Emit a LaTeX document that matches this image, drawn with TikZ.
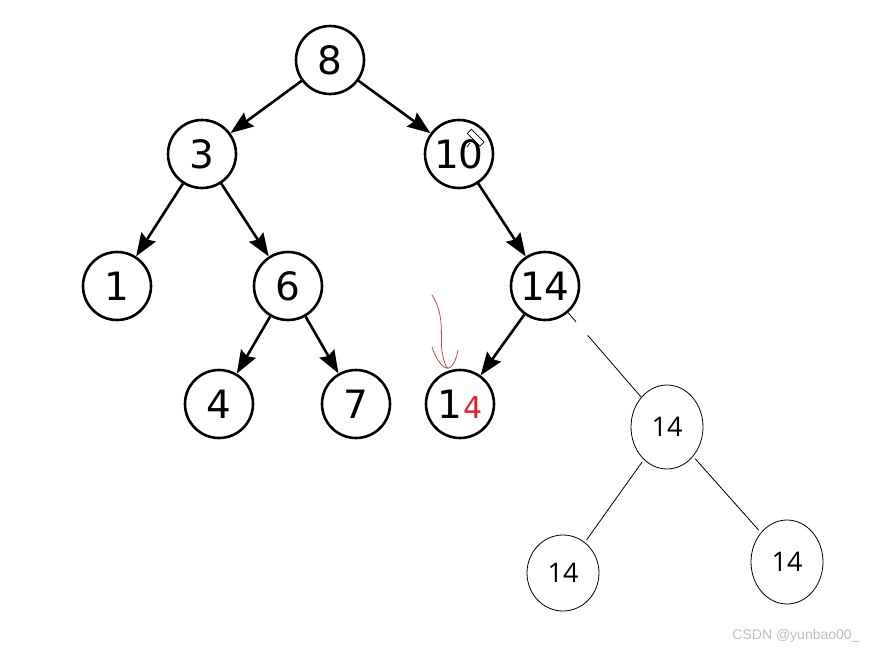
\documentclass[tikz,border=0pt]{standalone}
\usepackage{fontspec}
\setmainfont{DejaVu Sans}
\newfontfamily\segoe{Open Sans}
\newfontfamily\wm{Liberation Sans}
\usetikzlibrary{arrows.meta,shapes.geometric}
\tikzset{
  bnode/.style={circle,draw=black,line width=2.6pt,minimum size=68pt,inner sep=0pt,font=\fontsize{39}{39}\selectfont},
  enode/.style={ellipse,draw=black,line width=0.8pt,inner sep=0pt,font=\segoe\fontsize{27}{27}\selectfont},
  barrow/.style={line width=2.6pt,-{Stealth[length=23pt,width=17pt,inset=3pt]}},
  thin line/.style={line width=0.8pt}
}
\begin{document}
\begin{tikzpicture}[x=1pt,y=-1pt]
\useasboundingbox (0,0) rectangle (870,651);
\node[bnode] (n8) at (330,60) {8};
\node[bnode] (n3) at (202,154) {3};
\node[bnode] (n10) at (459,154) {10};
\node[bnode] (n1) at (117,286) {1};
\node[bnode] (n6) at (288,286) {6};
\node[bnode] (n14) at (545,286) {14};
\node[bnode] (n4) at (219,404) {4};
\node[bnode] (n7) at (356,404) {7};
\node[bnode] (n14b) at (460,404) {1\hspace{1pt}{\fontsize{30}{30}\selectfont\textcolor[RGB]{230,30,40}{4}}};
\draw[barrow] (n8) -- (n3);
\draw[barrow] (n8) -- (n10);
\draw[barrow] (n3) -- (n1);
\draw[barrow] (n3) -- (n6);
\draw[barrow] (n10) -- (n14);
\draw[barrow] (n6) -- (n4);
\draw[barrow] (n6) -- (n7);
\draw[barrow] (n14) -- (n14b);
% pencil cursor
\draw[line width=0.7pt,fill=white,rotate around={-45:(475,137)}] (467,134) rectangle (485,140);
\draw[line width=0.7pt] (467,147) -- (470,143);
% hand-drawn extra nodes
\node[enode,minimum width=72pt,minimum height=84pt] (e1) at (667,427) {14};
\node[enode,minimum width=72pt,minimum height=76pt] (e2) at (563,573) {14};
\node[enode,minimum width=72pt,minimum height=84pt] (e3) at (787,562) {14};
\draw[thin line,dash pattern=on 12pt off 18pt on 200pt] (n14) -- (e1);
\draw[thin line,shorten <=3pt,shorten >=3pt] (e1) -- (e2);
\draw[thin line,shorten <=3pt,shorten >=3pt] (e1) -- (e3);
% red hand-drawn arrow
\draw[draw={rgb,255:red,200;green,70;blue,80},line width=0.8pt,line cap=round]
  (432,295) .. controls (445,315) and (440,335) .. (442,352)
  .. controls (444,362) and (446,368) .. (448,368);
\draw[draw={rgb,255:red,200;green,70;blue,80},line width=0.8pt,line cap=round]
  (432,347) .. controls (436,360) and (444,370) .. (449,368)
  .. controls (454,366) and (457,356) .. (458,350);
% watermark
\node[font=\wm\fontsize{14}{14}\selectfont,text={rgb,255:red,190;green,190;blue,190}] (wm) at (796,636) {CSDN @yunbao00\_};
\end{tikzpicture}
\end{document}
